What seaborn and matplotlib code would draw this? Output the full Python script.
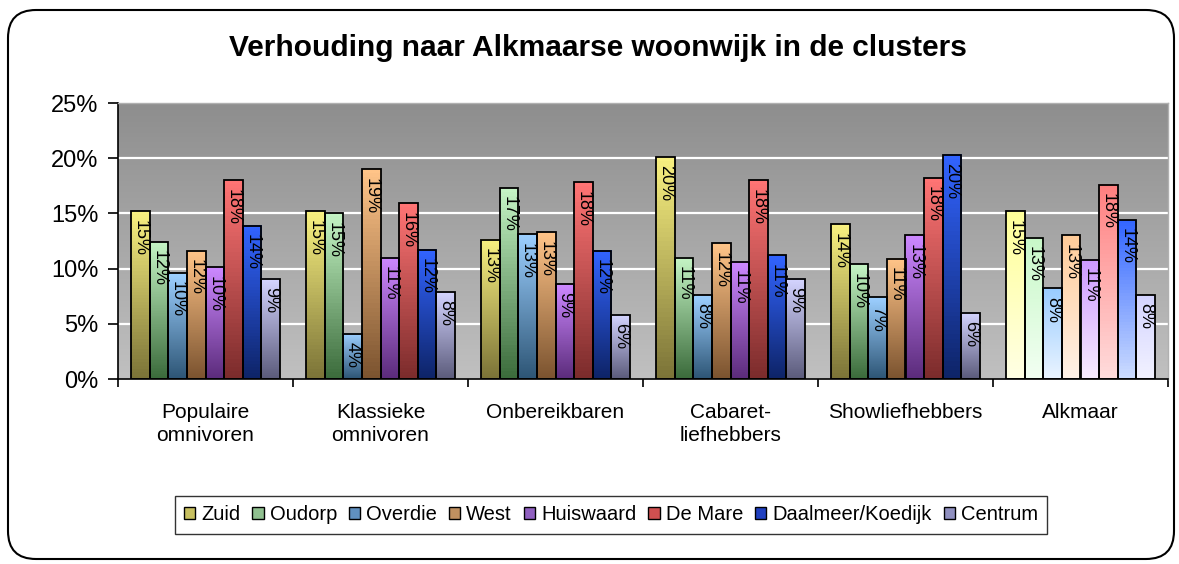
import numpy as np
import pandas as pd
import seaborn as sns
import matplotlib.pyplot as plt
from matplotlib.patches import FancyBboxPatch, Patch
from matplotlib.colors import LinearSegmentedColormap
from matplotlib.transforms import IdentityTransform

# data (percent per woonwijk)
clusters = ["Populaire\nomnivoren", "Klassieke\nomnivoren", "Onbereikbaren",
            "Cabaret-\nliefhebbers", "Showliefhebbers", "Alkmaar"]
wijken = ["Zuid", "Oudorp", "Overdie", "West", "Huiswaard", "De Mare",
          "Daalmeer/Koedijk", "Centrum"]

zuid = [15.2, 15.2, 12.6, 20.1, 14.0, 15.2]
oudorp = [12.4, 15.0, 17.3, 11.0, 10.4, 12.8]
overdie = [9.6, 4.1, 13.1, 7.6, 7.4, 8.2]
west = [11.6, 19.0, 13.3, 12.3, 10.9, 13.0]
huiswaard = [10.1, 11.0, 8.6, 10.6, 13.0, 10.8]
de_mare = [18.0, 15.9, 17.8, 18.0, 18.2, 17.6]
daalmeer = [13.9, 11.7, 11.6, 11.2, 20.3, 14.4]
centrum = [9.1, 7.9, 5.8, 9.1, 6.0, 7.6]

ytick_labels = ["0%", "5%", "10%", "15%", "20%", "25%"]

# colours: (top, bottom) of the gradient, and the Alkmaar (light) variant
kleur_donker = [("#f8f080", "#7c7438"), ("#c4f4c4", "#3c6c3c"), ("#9ccfff", "#2e5676"),
                ("#ffc488", "#7c5430"), ("#cc88ff", "#5c2c7c"), ("#ff7474", "#7c2c2c"),
                ("#3264ff", "#0e2468"), ("#d4d4ff", "#5c5c7c")]
kleur_licht = [("#ffff99", "#ffffe4"), ("#c8f8c8", "#f2fff2"), ("#99ccff", "#eaf4ff"),
               ("#ffcc99", "#fff2e8"), ("#cc99ff", "#f8ecff"), ("#ff8080", "#ffdcdc"),
               ("#3366ff", "#ccdcff"), ("#d4d4ff", "#f2f2ff")]
legend_kleur = ["#c8c060", "#90c090", "#6090c0", "#c09060", "#9060c0", "#d05050",
                "#2040c0", "#9090c0"]

df = pd.DataFrame({"cluster": clusters, "Zuid": zuid, "Oudorp": oudorp, "Overdie": overdie,
                   "West": west, "Huiswaard": huiswaard, "De Mare": de_mare,
                   "Daalmeer/Koedijk": daalmeer, "Centrum": centrum})
long = df.melt(id_vars="cluster", var_name="wijk", value_name="pct")

sns.set_style("white")
plt.rcParams["font.family"] = ["Liberation Sans", "DejaVu Sans"]
plt.rcParams["text.color"] = "black"
plt.rcParams["xtick.color"] = "black"
plt.rcParams["ytick.color"] = "black"

fig = plt.figure(figsize=(11.79, 5.64), dpi=100)
ax = fig.add_axes([118 / 1179, 1 - 379 / 564, 1050 / 1179, 276 / 564])

sns.barplot(data=long, x="cluster", y="pct", hue="wijk", order=clusters,
            hue_order=wijken, width=0.85, gap=0, legend=False, ax=ax,
            edgecolor="black", linewidth=1.3)

ax.set_xlim(-0.5, len(clusters) - 0.5)
ax.set_ylim(0, 25)

# grey gradient background
bg = LinearSegmentedColormap.from_list("bg", ["#c0c0c0", "#8e8e8e"])
ax.imshow(np.linspace(0, 1, 100).reshape(-1, 1), cmap=bg, origin="lower",
          extent=(-0.5, len(clusters) - 0.5, 0, 25), aspect="auto", zorder=0)
for y in [5, 10, 15, 20]:
    ax.axhline(y, color="white", lw=1.6, zorder=0.5)

# gradient fill inside each bar
for i, cont in enumerate(ax.containers):
    for j, bar in enumerate(cont.patches):
        top, bot = kleur_licht[i] if j == len(clusters) - 1 else kleur_donker[i]
        cm = LinearSegmentedColormap.from_list("g", [bot, top])
        x0 = bar.get_x()
        h = bar.get_height()
        ax.imshow(np.linspace(0, 1, 50).reshape(-1, 1), cmap=cm, origin="lower",
                  extent=(x0, x0 + bar.get_width(), 0, h), aspect="auto", zorder=1)
        bar.set_facecolor("none")
        bar.set_zorder(2)
        ax.annotate(f"{h:.0f}%", (x0 + bar.get_width() / 2, h), xytext=(0, -6),
                    textcoords="offset points", rotation=-90, ha="center", va="top",
                    fontsize=13, zorder=3)

ax.set_xlim(-0.5, len(clusters) - 0.5)
ax.set_ylim(0, 25)

ax.set_yticks([0, 5, 10, 15, 20, 25])
ax.set_yticklabels(ytick_labels, fontsize=17)
ax.tick_params(axis="y", direction="out", length=7, width=1.2, pad=7, left=True)
ax.set_xticks(np.arange(len(clusters) + 1) - 0.5)
ax.set_xticklabels([])
ax.tick_params(axis="x", which="major", direction="out", length=6, width=1.2, bottom=True)
ax.set_xticks(np.arange(len(clusters)), minor=True)
ax.set_xticklabels(clusters, minor=True, fontsize=15, linespacing=1.3)
ax.tick_params(axis="x", which="minor", length=0, pad=17)
ax.set_xlabel("")
ax.set_ylabel("")

for s in ["left", "bottom"]:
    ax.spines[s].set_color("black")
    ax.spines[s].set_linewidth(1.2)
for s in ["top", "right"]:
    ax.spines[s].set_color("#b0b0b0")
    ax.spines[s].set_linewidth(1)

fig.text(598 / 1179, 1 - 48 / 564, "Verhouding naar Alkmaarse woonwijk in de clusters",
         ha="center", va="center", fontsize=21.5, fontweight="bold")

handles = [Patch(facecolor=c, edgecolor="black", linewidth=1) for c in legend_kleur]
leg = fig.legend(handles, wijken, loc="center", bbox_to_anchor=(611 / 1179, 1 - 515 / 564),
                 ncol=8, fontsize=14.5, frameon=True, fancybox=False, handlelength=0.55,
                 handleheight=0.55, handletextpad=0.3, columnspacing=0.6,
                 borderpad=0.45)
leg.get_frame().set_edgecolor("black")
leg.get_frame().set_linewidth(1)

rand = FancyBboxPatch((8, 5), 1166, 549, boxstyle="round,pad=0,rounding_size=28",
                      transform=IdentityTransform(), facecolor="none",
                      edgecolor="black", linewidth=1.5)
fig.patches.append(rand)

fig.savefig("out.png", dpi=100)
